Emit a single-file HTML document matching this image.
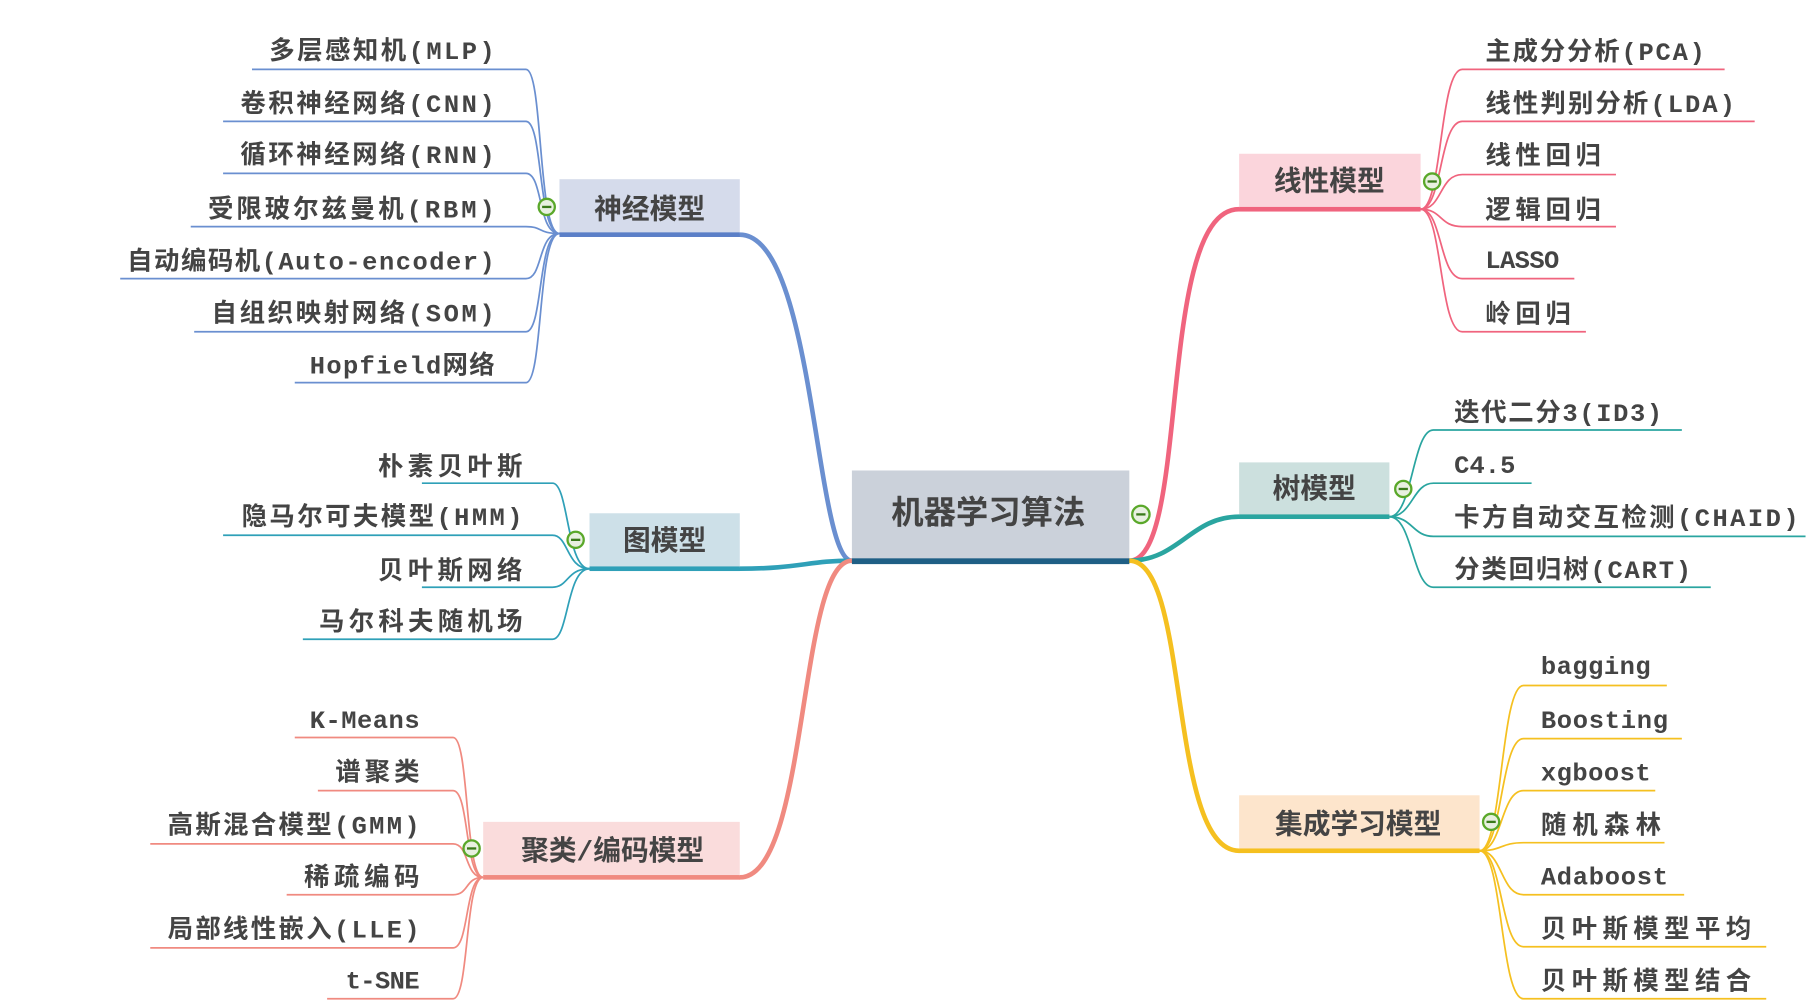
<!DOCTYPE html>
<html><head><meta charset="utf-8"><style>
html,body{margin:0;padding:0;background:#fff;width:1809px;height:1008px;overflow:hidden}
svg text{font-family:"Liberation Mono","Noto Sans CJK SC",monospace;font-weight:bold;fill:#444}
</style></head><body>
<svg width="1809" height="1008" viewBox="0 0 1565 872" xmlns="http://www.w3.org/2000/svg">
<g fill="none" stroke-linecap="round">
<!-- main connectors -->
<path d="M737,485 C705,485 705,203 640,203" stroke="#6a8fd0" stroke-width="4"/>
<path d="M737,485 C700,485 690,492 640,492" stroke="#2fa0b8" stroke-width="4"/>
<path d="M737,485 C690,485 700,759 640,759" stroke="#f08a80" stroke-width="4"/>
<path d="M977,485 C1030,485 1000,181 1072,181" stroke="#f0647e" stroke-width="4"/>
<path d="M977,485 C1020,485 1030,447 1072,447" stroke="#2aa5a0" stroke-width="4"/>
<path d="M977,485 C1030,485 1010,736 1072,736" stroke="#f5c020" stroke-width="4"/>
</g>
<!-- center -->
<rect x="737" y="407" width="240" height="77" fill="#cbd1da"/>
<rect x="737" y="483" width="240" height="5" fill="#1f5f85"/>
<text x="855" y="453" font-size="28" text-anchor="middle">机器学习算法</text>
<circle cx="987" cy="445" r="7.5" fill="#e8f0e0" stroke="#5aa82a" stroke-width="2"/><line x1="983" y1="445" x2="991" y2="445" stroke="#3a7a1a" stroke-width="2"/>

<!-- neural -->
<g fill="none" stroke="#6a8fd0" stroke-width="1.5">
<path d="M218,60 H455 C470,60 465,202 484,202"/>
<path d="M193,105 H455 C470,105 465,202 484,202"/>
<path d="M193,150 H455 C470,150 465,202 484,202"/>
<path d="M165,196 H455 C470,196 465,202 484,202"/>
<path d="M104,241 H455 C470,241 465,202 484,202"/>
<path d="M168,287 H455 C470,287 465,202 484,202"/>
<path d="M255,331 H455 C470,331 465,202 484,202"/>
</g>
<rect x="484" y="155" width="156" height="47" fill="#d5dbeb"/>
<rect x="484" y="201" width="156" height="4" fill="#5b7fc7"/>
<text x="562" y="189" font-size="24" text-anchor="middle">神经模型</text>
<circle cx="473" cy="179" r="7" fill="#e8f0e0" stroke="#5aa82a" stroke-width="2"/><line x1="469" y1="179" x2="477" y2="179" stroke="#3a7a1a" stroke-width="2"/>
<g font-size="22" text-anchor="end">
<text x="428" y="51" textLength="195">多层感知机(MLP)</text>
<text x="428" y="97" textLength="220">卷积神经网络(CNN)</text>
<text x="428" y="141" textLength="220">循环神经网络(RNN)</text>
<text x="428" y="188" textLength="248">受限玻尔兹曼机(RBM)</text>
<text x="428" y="233" textLength="318">自动编码机(Auto-encoder)</text>
<text x="428" y="278" textLength="245">自组织映射网络(SOM)</text>
<text x="428" y="323" textLength="160">Hopfield网络</text>
</g>

<!-- graph -->
<g fill="none" stroke="#2fa0b8" stroke-width="1.5">
<path d="M365,418 H478 C492,418 490,492 510,492"/>
<path d="M193,463 H478 C492,463 490,492 510,492"/>
<path d="M365,508 H478 C492,508 490,492 510,492"/>
<path d="M262,553 H478 C492,553 490,492 510,492"/>
</g>
<rect x="510" y="444" width="130" height="47" fill="#cde0e8"/>
<rect x="510" y="490" width="130" height="4" fill="#2fa0b8"/>
<text x="575" y="476" font-size="24" text-anchor="middle">图模型</text>
<circle cx="498" cy="467" r="7" fill="#e8f0e0" stroke="#5aa82a" stroke-width="2"/><line x1="494" y1="467" x2="502" y2="467" stroke="#3a7a1a" stroke-width="2"/>
<g font-size="22" text-anchor="end">
<text x="452" y="411" textLength="125">朴素贝叶斯</text>
<text x="452" y="454" textLength="243">隐马尔可夫模型(HMM)</text>
<text x="452" y="501" textLength="125">贝叶斯网络</text>
<text x="452" y="545" textLength="176">马尔科夫随机场</text>
</g>

<!-- cluster -->
<g fill="none" stroke="#f08a80" stroke-width="1.5">
<path d="M255,638 H392 C406,638 402,759 418,759"/>
<path d="M275,684 H392 C406,684 402,759 418,759"/>
<path d="M130,730 H392 C406,730 402,759 418,759"/>
<path d="M248,774 H392 C406,774 402,759 418,759"/>
<path d="M130,820 H392 C406,820 402,759 418,759"/>
<path d="M283,864 H392 C406,864 402,759 418,759"/>
</g>
<rect x="418" y="711" width="222" height="47" fill="#fadcdc"/>
<rect x="418" y="757" width="222" height="4" fill="#f08a80"/>
<text x="530" y="744" font-size="24" text-anchor="middle">聚类/编码模型</text>
<circle cx="408" cy="734" r="7" fill="#e8f0e0" stroke="#5aa82a" stroke-width="2"/><line x1="404" y1="734" x2="412" y2="734" stroke="#3a7a1a" stroke-width="2"/>
<g font-size="22" text-anchor="end">
<text x="363" y="630" textLength="95">K-Means</text>
<text x="363" y="675" textLength="73">谱聚类</text>
<text x="363" y="721" textLength="218">高斯混合模型(GMM)</text>
<text x="363" y="766" textLength="100">稀疏编码</text>
<text x="363" y="811" textLength="218">局部线性嵌入(LLE)</text>
<text x="363" y="855" textLength="64">t-SNE</text>
</g>

<!-- linear -->
<g fill="none" stroke="#f0647e" stroke-width="1.5">
<path d="M1492,60 H1265 C1245,60 1248,181 1229,181"/>
<path d="M1518,105 H1265 C1245,105 1248,181 1229,181"/>
<path d="M1398,151 H1265 C1245,151 1248,181 1229,181"/>
<path d="M1398,196 H1265 C1245,196 1248,181 1229,181"/>
<path d="M1362,241 H1265 C1245,241 1248,181 1229,181"/>
<path d="M1372,287 H1265 C1245,287 1248,181 1229,181"/>
</g>
<rect x="1072" y="133" width="157" height="47" fill="#fbd5dc"/>
<rect x="1072" y="179" width="157" height="4" fill="#f0647e"/>
<text x="1150" y="165" font-size="24" text-anchor="middle">线性模型</text>
<circle cx="1239" cy="157" r="7" fill="#e8f0e0" stroke="#5aa82a" stroke-width="2"/><line x1="1235" y1="157" x2="1243" y2="157" stroke="#3a7a1a" stroke-width="2"/>
<g font-size="22">
<text x="1285" y="52" textLength="190">主成分分析(PCA)</text>
<text x="1285" y="97" textLength="216">线性判别分析(LDA)</text>
<text x="1285" y="142" textLength="100">线性回归</text>
<text x="1285" y="189" textLength="100">逻辑回归</text>
<text x="1285" y="232" textLength="64">LASSO</text>
<text x="1285" y="279" textLength="74">岭回归</text>
</g>

<!-- tree -->
<g fill="none" stroke="#2aa5a0" stroke-width="1.5">
<path d="M1455,372 H1240 C1222,372 1222,447 1202,447"/>
<path d="M1325,418 H1240 C1222,418 1222,447 1202,447"/>
<path d="M1562,464 H1240 C1222,464 1222,447 1202,447"/>
<path d="M1480,508 H1240 C1222,508 1222,447 1202,447"/>
</g>
<rect x="1072" y="400" width="130" height="46" fill="#cce0de"/>
<rect x="1072" y="445" width="130" height="4" fill="#2aa5a0"/>
<text x="1137" y="431" font-size="24" text-anchor="middle">树模型</text>
<circle cx="1214" cy="423" r="7" fill="#e8f0e0" stroke="#5aa82a" stroke-width="2"/><line x1="1210" y1="423" x2="1218" y2="423" stroke="#3a7a1a" stroke-width="2"/>
<g font-size="22">
<text x="1258" y="364" textLength="180">迭代二分3(ID3)</text>
<text x="1258" y="409" textLength="53">C4.5</text>
<text x="1258" y="455" textLength="298">卡方自动交互检测(CHAID)</text>
<text x="1258" y="500" textLength="205">分类回归树(CART)</text>
</g>

<!-- ensemble -->
<g fill="none" stroke="#f5c020" stroke-width="1.5">
<path d="M1442,593 H1318 C1298,593 1300,736 1280,736"/>
<path d="M1455,639 H1318 C1298,639 1300,736 1280,736"/>
<path d="M1432,684 H1318 C1298,684 1300,736 1280,736"/>
<path d="M1440,729 H1318 C1298,729 1300,736 1280,736"/>
<path d="M1457,774 H1318 C1298,774 1300,736 1280,736"/>
<path d="M1528,819 H1318 C1298,819 1300,736 1280,736"/>
<path d="M1528,864 H1318 C1298,864 1300,736 1280,736"/>
</g>
<rect x="1072" y="688" width="208" height="47" fill="#fde5cc"/>
<rect x="1072" y="734" width="208" height="4" fill="#f5c020"/>
<text x="1175" y="721" font-size="24" text-anchor="middle">集成学习模型</text>
<circle cx="1290" cy="711" r="7" fill="#e8f0e0" stroke="#5aa82a" stroke-width="2"/><line x1="1286" y1="711" x2="1294" y2="711" stroke="#3a7a1a" stroke-width="2"/>
<g font-size="22">
<text x="1333" y="583" textLength="95">bagging</text>
<text x="1333" y="630" textLength="110">Boosting</text>
<text x="1333" y="675" textLength="95">xgboost</text>
<text x="1333" y="721" textLength="104">随机森林</text>
<text x="1333" y="765" textLength="110">Adaboost</text>
<text x="1333" y="811" textLength="182">贝叶斯模型平均</text>
<text x="1333" y="856" textLength="182">贝叶斯模型结合</text>
</g>
</svg>
</body></html>
